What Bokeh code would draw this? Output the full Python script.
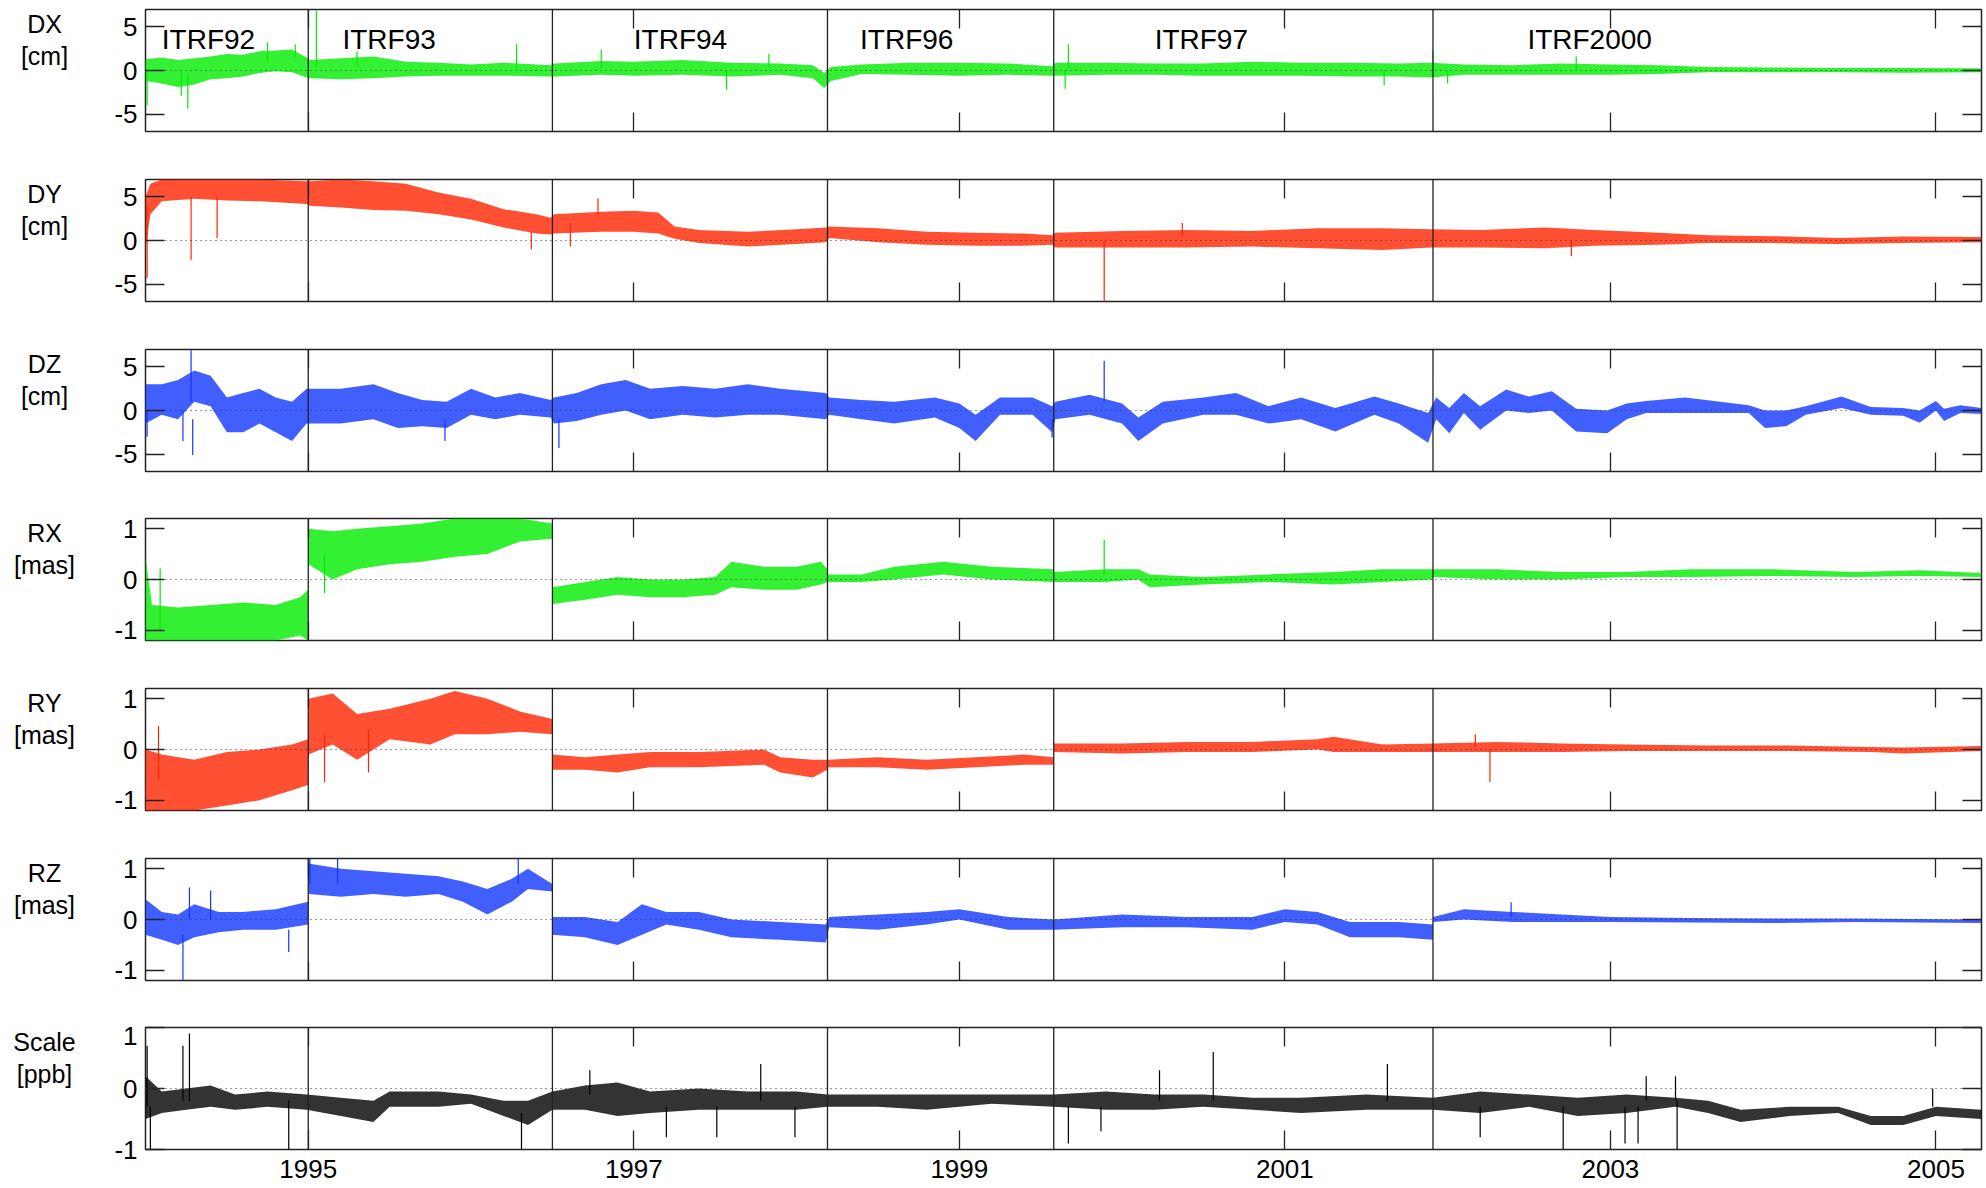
from bokeh.plotting import figure
from bokeh.layouts import column, row
from bokeh.models import Range1d, FixedTicker, LinearAxis, Span
from bokeh.embed import file_html
from bokeh.resources import INLINE
from bokeh.core.properties import value

FONT = "Liberation Sans"

# ---------------- data ----------------
itrf_names = ["ITRF92", "ITRF93", "ITRF94", "ITRF96", "ITRF97", "ITRF2000"]
itrf_label_year = [1994.10, 1995.21, 1997.00, 1998.39, 2000.20, 2002.49]
itrf_bounds = [1995.0, 1996.5, 1998.19, 1999.58, 2001.91]
x_ticks = [1995, 1997, 1999, 2001, 2003, 2005]
cm_ticks = [-5, 0, 5]
mas_ticks = [-1, 0, 1]
ppb_ticks = [-1, 0, 1]

# DX [cm] : envelope of the daily series (low / high) and isolated spikes
dx_t = [1994.00, 1994.10, 1994.20, 1994.30, 1994.40, 1994.50, 1994.60, 1994.70, 1994.80, 1994.90, 1994.99,
        1995.01, 1995.20, 1995.40, 1995.60, 1995.80, 1996.00, 1996.20, 1996.49, 1996.51, 1996.80,
        1997.00, 1997.30, 1997.60, 1997.90, 1998.10, 1998.17, 1998.21, 1998.40, 1998.70, 1999.00,
        1999.30, 1999.57, 1999.59, 1999.90, 2000.20, 2000.50, 2000.80, 2001.10, 2001.40, 2001.70,
        2001.90, 2002.10, 2002.40, 2002.70, 2003.00, 2003.30, 2003.60, 2004.00, 2004.40, 2004.80, 2005.28]
dx_lo = [-1.2, -1.5, -1.9, -1.6, -1.0, -0.9, -0.7, -0.3, -0.1, -0.2, -0.8,
         -0.9, -1.0, -0.9, -0.7, -0.6, -0.6, -0.6, -0.7, -0.7, -0.5,
         -0.6, -0.5, -0.7, -0.5, -0.9, -2.0, -1.2, -0.4, -0.5, -0.6,
         -0.5, -0.6, -0.6, -0.5, -0.5, -0.6, -0.6, -0.6, -0.7, -0.7,
         -0.8, -0.5, -0.5, -0.5, -0.5, -0.4, -0.2, -0.2, -0.2, -0.25, -0.2]
dx_hi = [1.3, 1.5, 1.2, 1.4, 1.6, 1.9, 1.8, 2.2, 2.3, 2.4, 1.5,
         1.2, 1.4, 1.6, 1.0, 0.9, 0.7, 0.9, 0.6, 0.8, 1.1,
         1.0, 1.2, 0.9, 0.8, 0.6, -0.3, 0.4, 0.7, 0.9, 0.9,
         0.8, 0.5, 0.9, 0.9, 0.8, 0.8, 1.0, 0.9, 0.9, 0.8,
         0.9, 0.7, 0.6, 0.8, 0.7, 0.6, 0.4, 0.35, 0.3, 0.3, 0.25]
dx_sp_t = [1994.01, 1994.22, 1994.26, 1994.75, 1994.92, 1995.05, 1995.30, 1996.28, 1996.80,
           1997.57, 1997.83, 1999.65, 1999.67, 2001.61, 2001.91, 2002.00, 2002.79]
dx_sp_from = [0.0, 0.0, -0.5, 1.0, 1.5, 0.5, 0.5, 0.3, 0.3, 0.0, 0.3, 0.0, 0.3, 0.0, 0.0, 0.0, 0.0]
dx_sp_to = [-4.0, -2.9, -4.4, 3.2, 3.0, 6.9, 2.2, 3.0, 2.4, -2.2, 1.9, -2.1, 3.0, -1.7, 2.3, -1.5, 1.6]

# DY [cm]
dy_t = [1994.00, 1994.03, 1994.10, 1994.30, 1994.50, 1994.70, 1994.99, 1995.01, 1995.20, 1995.40,
        1995.60, 1995.80, 1996.00, 1996.20, 1996.40, 1996.49, 1996.51, 1996.80, 1997.00, 1997.15,
        1997.25, 1997.40, 1997.70, 1998.00, 1998.18, 1998.20, 1998.50, 1998.80, 1999.10, 1999.40,
        1999.57, 1999.59, 2000.00, 2000.40, 2000.80, 2001.20, 2001.60, 2001.90, 2002.20, 2002.60,
        2002.90, 2003.30, 2003.60, 2004.00, 2004.40, 2004.80, 2005.28]
dy_lo = [-1.0, 3.0, 4.5, 4.8, 4.6, 4.5, 4.2, 4.0, 3.8, 3.5,
         3.4, 3.0, 2.4, 1.5, 0.8, 0.7, 0.8, 1.0, 1.0, 0.8,
         0.2, -0.3, -0.7, -0.4, -0.2, 0.3, -0.2, -0.5, -0.6, -0.6,
         -0.5, -0.8, -0.8, -0.8, -0.7, -0.9, -1.1, -0.8, -0.8, -0.9,
         -0.6, -0.5, -0.3, -0.3, -0.4, -0.3, -0.2]
dy_hi = [5.0, 6.5, 7.0, 7.0, 7.0, 7.0, 6.8, 6.8, 7.0, 6.8,
         6.5, 5.5, 4.8, 3.6, 3.0, 2.6, 3.0, 3.3, 3.4, 3.2,
         1.6, 1.2, 1.0, 1.3, 1.5, 1.6, 1.4, 1.0, 0.9, 0.8,
         0.6, 0.9, 1.1, 1.2, 1.1, 1.4, 1.4, 1.3, 1.2, 1.5,
         1.2, 0.9, 0.6, 0.5, 0.3, 0.45, 0.4]
dy_sp_t = [1994.01, 1994.28, 1994.44, 1996.37, 1996.61, 1996.78, 1999.89, 2000.37, 2002.76]
dy_sp_from = [4.0, 5.0, 5.0, 1.0, 2.0, 3.0, 0.0, 0.5, 0.0]
dy_sp_to = [-4.3, -2.2, 0.3, -1.0, -0.7, 4.85, -7.0, 2.0, -1.8]

# DZ [cm]
dz_t = [1994.00, 1994.10, 1994.20, 1994.30, 1994.40, 1994.50, 1994.60, 1994.70, 1994.80, 1994.90, 1994.99,
        1995.01, 1995.20, 1995.40, 1995.55, 1995.70, 1995.85,
        1996.00, 1996.15, 1996.30, 1996.49, 1996.51, 1996.65, 1996.80, 1996.95,
        1997.10, 1997.30, 1997.50, 1997.70, 1997.90,
        1998.18, 1998.20, 1998.40, 1998.60, 1998.85,
        1999.00, 1999.10, 1999.25, 1999.45, 1999.57, 1999.59, 1999.80,
        2000.00, 2000.10, 2000.25, 2000.50, 2000.70, 2000.90,
        2001.10, 2001.31, 2001.55, 2001.70, 2001.88, 2001.93,
        2002.01, 2002.10, 2002.20, 2002.36, 2002.50, 2002.64, 2002.79, 2002.98,
        2003.10, 2003.22, 2003.46, 2003.85, 2003.95,
        2004.08, 2004.20, 2004.42, 2004.60, 2004.80, 2004.90,
        2005.00, 2005.05, 2005.15, 2005.28]
dz_lo = [-1.5, -0.5, -1.0, 1.0, 0.5, -2.5, -2.5, -1.5, -2.5, -3.5, -1.5,
         -1.5, -1.5, -1.0, -2.0, -1.8, -2.0,
         -0.5, -1.0, -0.5, -0.8, -1.5, -1.2, -0.5, 0.0,
         -1.0, -0.5, -0.8, -0.5, -0.5,
         -1.0, -0.5, -1.0, -1.5, -0.8,
         -2.0, -3.5, -0.5, -0.5, -2.5, -1.0, -0.5,
         -1.5, -3.5, -1.5, -0.5, -0.5, -1.5,
         -1.0, -2.4, -0.5, -1.5, -3.7, -1.0,
         -2.6, -0.3, -2.2, 0.0, -0.3, 0.0, -2.4, -2.6,
         -1.0, -0.3, -0.3, -0.3, -2.0,
         -1.8, -0.5, 0.3, -0.5, -0.6, -1.4,
         0.0, -1.2, -0.3, -0.4]
dz_hi = [3.0, 3.0, 3.5, 4.6, 4.0, 1.5, 2.0, 2.5, 1.5, 1.0, 2.5,
         2.5, 2.5, 3.0, 2.0, 1.2, 1.0,
         2.5, 1.5, 2.0, 1.2, 1.5, 2.0, 3.0, 3.5,
         2.5, 2.8, 2.5, 3.0, 2.5,
         2.0, 1.5, 1.2, 1.0, 1.5,
         0.8, -0.5, 1.5, 1.5, 0.5, 1.0, 1.8,
         0.8, -0.8, 1.0, 1.5, 2.0, 0.5,
         1.5, 0.3, 1.6, 0.8, -0.3, 1.5,
         0.3, 2.0, 0.5, 2.4, 1.6, 2.2, 0.2, 0.0,
         0.8, 1.1, 1.5, 0.6, 0.0,
         0.0, 0.5, 1.6, 0.4, 0.3, 0.0,
         1.1, 0.2, 0.6, 0.3]
dz_sp_t = [1994.01, 1994.23, 1994.28, 1994.29, 1995.84, 1996.54, 1999.57, 1999.89]
dz_sp_from = [0.0, 0.0, 1.0, -1.0, -1.0, -1.0, -1.0, 1.0]
dz_sp_to = [-3.0, -3.5, 6.9, -5.1, -3.5, -4.3, -3.1, 5.7]

# RX [mas]
rx_t = [1994.00, 1994.04, 1994.20, 1994.40, 1994.60, 1994.80, 1994.95, 1994.999,
        1995.001, 1995.15, 1995.30, 1995.50, 1995.70, 1995.90,
        1996.10, 1996.30, 1996.499, 1996.501, 1996.70, 1996.90,
        1997.10, 1997.30, 1997.50, 1997.60, 1997.80,
        1998.00, 1998.15, 1998.189, 1998.191, 1998.40, 1998.60, 1998.90,
        1999.20, 1999.579, 1999.581, 1999.90,
        2000.10, 2000.17, 2000.50, 2000.90,
        2001.30, 2001.60, 2001.909, 2001.911,
        2002.30, 2002.70, 2003.10, 2003.50, 2004.00, 2004.50, 2004.90, 2005.28]
rx_lo = [-1.2, -1.2, -1.2, -1.2, -1.2, -1.2, -1.1, -1.2,
         0.3, 0.0, 0.2, 0.3, 0.35, 0.45,
         0.5, 0.75, 0.8, -0.48, -0.4, -0.3,
         -0.35, -0.35, -0.3, -0.15, -0.2,
         -0.2, -0.1, -0.05, -0.05, -0.05, 0.0, 0.1,
         0.0, -0.05, -0.05, -0.05,
         0.0, -0.15, -0.1, -0.05,
         -0.1, -0.05, 0.0, 0.05,
         0.0, 0.0, 0.05, 0.05, 0.07, 0.05, 0.07, 0.05]
rx_hi = [0.45, -0.5, -0.55, -0.5, -0.45, -0.5, -0.35, -0.2,
         1.0, 0.95, 1.0, 1.05, 1.1, 1.2,
         1.2, 1.2, 1.1, -0.15, -0.05, 0.05,
         0.0, 0.0, 0.05, 0.35, 0.25,
         0.25, 0.35, 0.2, 0.1, 0.1, 0.25, 0.35,
         0.25, 0.2, 0.15, 0.2,
         0.2, 0.1, 0.05, 0.1,
         0.15, 0.2, 0.2, 0.2,
         0.2, 0.15, 0.15, 0.2, 0.2, 0.15, 0.18, 0.13]
rx_sp_t = [1994.09, 1995.10, 1999.89]
rx_sp_from = [-1.0, 0.5, 0.1]
rx_sp_to = [0.22, -0.27, 0.78]

# RY [mas]
ry_t = [1994.00, 1994.10, 1994.30, 1994.50, 1994.70, 1994.90, 1994.999,
        1995.001, 1995.15, 1995.30, 1995.50, 1995.75, 1995.90,
        1996.10, 1996.30, 1996.499, 1996.501, 1996.70, 1996.90,
        1997.10, 1997.40, 1997.80, 1997.90,
        1998.10, 1998.189, 1998.191, 1998.50, 1998.80,
        1999.10, 1999.40, 1999.579, 1999.581,
        2000.00, 2000.40, 2000.80,
        2001.20, 2001.30, 2001.60, 2001.91,
        2002.30, 2002.70, 2003.10, 2003.60, 2004.10, 2004.60, 2004.80, 2005.28]
ry_lo = [-1.2, -1.2, -1.2, -1.1, -1.0, -0.8, -0.7,
         -0.1, 0.1, -0.2, 0.2, 0.1, 0.3,
         0.3, 0.35, 0.3, -0.4, -0.4, -0.45,
         -0.35, -0.35, -0.3, -0.45,
         -0.55, -0.4, -0.35, -0.35, -0.4,
         -0.35, -0.3, -0.3, -0.05,
         -0.08, -0.05, -0.05,
         0.0, -0.05, -0.05, -0.05,
         -0.05, -0.05, -0.03, -0.03, -0.03, -0.05, -0.08, -0.03]
ry_hi = [0.0, -0.1, -0.2, -0.05, 0.0, 0.1, 0.2,
         1.0, 1.1, 0.7, 0.8, 1.0, 1.15,
         1.0, 0.75, 0.6, -0.1, -0.15, -0.1,
         -0.05, -0.05, 0.0, -0.15,
         -0.2, -0.2, -0.2, -0.15, -0.2,
         -0.15, -0.1, -0.15, 0.12,
         0.12, 0.15, 0.15,
         0.2, 0.25, 0.1, 0.12,
         0.15, 0.12, 0.1, 0.08, 0.08, 0.05, 0.04, 0.07]
ry_sp_t = [1994.08, 1995.10, 1995.37, 2002.17, 2002.26]
ry_sp_from = [-0.6, 0.3, 0.4, 0.05, 0.0]
ry_sp_to = [0.46, -0.64, -0.45, 0.3, -0.64]

# RZ [mas]
rz_t = [1994.00, 1994.10, 1994.20, 1994.30, 1994.45, 1994.60, 1994.80, 1994.999,
        1995.001, 1995.20, 1995.40, 1995.60, 1995.80, 1995.95,
        1996.10, 1996.25, 1996.35, 1996.499, 1996.501, 1996.70, 1996.90,
        1997.05, 1997.20, 1997.40, 1997.60, 1997.90,
        1998.18, 1998.20, 1998.50, 1998.80,
        1999.00, 1999.30, 1999.58,
        2000.00, 2000.40, 2000.80,
        2001.00, 2001.20, 2001.40, 2001.70, 2001.909, 2001.911,
        2002.10, 2002.40, 2002.70, 2003.00, 2003.50, 2004.00, 2004.50, 2005.28]
rz_lo = [-0.3, -0.4, -0.5, -0.35, -0.25, -0.2, -0.2, -0.1,
         0.5, 0.45, 0.5, 0.45, 0.5, 0.35,
         0.1, 0.35, 0.6, 0.55, -0.3, -0.35, -0.5,
         -0.3, -0.1, -0.2, -0.35, -0.4,
         -0.45, -0.15, -0.2, -0.1,
         0.0, -0.2, -0.2,
         -0.15, -0.15, -0.2,
         -0.05, -0.1, -0.35, -0.35, -0.4, -0.05,
         0.0, -0.05, -0.05, -0.05, -0.06, -0.07, -0.05, -0.07]
rz_hi = [0.4, 0.15, 0.1, 0.3, 0.15, 0.15, 0.2, 0.35,
         1.1, 1.0, 0.95, 0.9, 0.85, 0.75,
         0.6, 0.8, 1.0, 0.7, 0.05, 0.05, -0.05,
         0.3, 0.15, 0.15, 0.0, -0.05,
         -0.1, 0.05, 0.1, 0.15,
         0.2, 0.05, 0.0,
         0.1, 0.05, 0.05,
         0.2, 0.15, -0.05, -0.05, -0.1, 0.05,
         0.2, 0.15, 0.1, 0.05, 0.03, 0.02, 0.02, 0.0]
rz_sp_t = [1994.23, 1994.27, 1994.40, 1994.88, 1995.01, 1995.18, 1996.29, 2002.39]
rz_sp_from = [-0.3, 0.0, 0.0, -0.2, 0.7, 0.7, 0.7, 0.05]
rz_sp_to = [-1.2, 0.63, 0.57, -0.64, 1.2, 1.2, 1.2, 0.34]

# Scale [ppb]
sc_t = [1994.00, 1994.10, 1994.25, 1994.40, 1994.55, 1994.75, 1994.99,
        1995.20, 1995.40, 1995.50, 1995.80,
        1996.00, 1996.20, 1996.35, 1996.50, 1996.70, 1996.90,
        1997.10, 1997.40, 1997.70,
        1998.00, 1998.19, 1998.50, 1998.80,
        1999.20, 1999.58, 1999.90,
        2000.20, 2000.50, 2000.80,
        2001.10, 2001.50, 2001.91,
        2002.20, 2002.50, 2002.80,
        2003.10, 2003.40, 2003.60, 2003.80,
        2004.10, 2004.40, 2004.60, 2004.80, 2005.00, 2005.28]
sc_lo = [-0.5, -0.4, -0.35, -0.3, -0.35, -0.3, -0.35,
         -0.45, -0.55, -0.3, -0.3,
         -0.25, -0.45, -0.6, -0.35, -0.35, -0.45,
         -0.4, -0.35, -0.35,
         -0.35, -0.3, -0.3, -0.35,
         -0.25, -0.3, -0.35,
         -0.35, -0.3, -0.35,
         -0.4, -0.35, -0.35,
         -0.4, -0.3, -0.45,
         -0.4, -0.3, -0.4, -0.55,
         -0.45, -0.4, -0.6, -0.6, -0.45, -0.5]
sc_hi = [0.2, -0.05, 0.0, 0.05, -0.1, -0.05, -0.1,
         -0.15, -0.2, -0.05, -0.05,
         -0.1, -0.2, -0.2, -0.05, 0.05, 0.1,
         -0.05, 0.0, -0.05,
         -0.05, -0.1, -0.1, -0.1,
         -0.1, -0.1, -0.05,
         -0.1, -0.1, -0.15,
         -0.15, -0.1, -0.15,
         -0.05, -0.1, -0.15,
         -0.1, -0.15, -0.2, -0.35,
         -0.3, -0.3, -0.45, -0.45, -0.3, -0.35]
sc_sp_t = [1994.01, 1994.03, 1994.23, 1994.27, 1994.88, 1996.31, 1996.73, 1997.20, 1997.51, 1997.78,
           1997.99, 1999.67, 1999.87, 2000.23, 2000.56, 2001.63, 2002.20, 2002.71, 2003.09, 2003.17,
           2003.22, 2003.40, 2003.41, 2004.98]
sc_sp_from = [-0.3, -0.3, -0.2, -0.2, -0.2, -0.4, -0.1, -0.3, -0.3, -0.2,
              -0.3, -0.3, -0.3, -0.2, -0.2, -0.2, -0.3, -0.3, -0.3, -0.3,
              -0.2, -0.2, -0.2, -0.3]
sc_sp_to = [0.7, -1.0, 0.7, 0.9, -1.0, -1.0, 0.3, -0.8, -0.8, 0.4,
            -0.8, -0.9, -0.7, 0.3, 0.6, 0.4, -0.8, -1.0, -0.9, -0.9,
            0.2, 0.2, -1.0, 0.0]

# ---------------- styling ----------------
GREEN = "#00ec00"
RED = "#ff2400"
BLUE = "#1236ff"
BLACK = "#000000"
EDGE = "#222222"

panels = [
    ("DX", "[cm]", dx_t, dx_lo, dx_hi, dx_sp_t, dx_sp_from, dx_sp_to, GREEN, (-7, 7), cm_ticks),
    ("DY", "[cm]", dy_t, dy_lo, dy_hi, dy_sp_t, dy_sp_from, dy_sp_to, RED, (-7, 7), cm_ticks),
    ("DZ", "[cm]", dz_t, dz_lo, dz_hi, dz_sp_t, dz_sp_from, dz_sp_to, BLUE, (-7, 7), cm_ticks),
    ("RX", "[mas]", rx_t, rx_lo, rx_hi, rx_sp_t, rx_sp_from, rx_sp_to, GREEN, (-1.2, 1.2), mas_ticks),
    ("RY", "[mas]", ry_t, ry_lo, ry_hi, ry_sp_t, ry_sp_from, ry_sp_to, RED, (-1.2, 1.2), mas_ticks),
    ("RZ", "[mas]", rz_t, rz_lo, rz_hi, rz_sp_t, rz_sp_from, rz_sp_to, BLUE, (-1.2, 1.2), mas_ticks),
    ("Scale", "[ppb]", sc_t, sc_lo, sc_hi, sc_sp_t, sc_sp_from, sc_sp_to, BLACK, (-1, 1), ppb_ticks),
]

# per-panel (top border, bottom border); frame height fixed
borders = [(9, 47), (1, 47), (1, 46), (1, 47), (1, 47), (1, 46), (1, 39)]
FRAME_H = 122
LABEL_W = 88
FIG_W = 1984 - LABEL_W
X0, X1 = 1994.0, 2005.28


def style_axis(ax, ticks, show_labels):
    ax.ticker = FixedTicker(ticks=ticks)
    ax.major_tick_in = 19
    ax.major_tick_out = 0
    ax.minor_tick_in = 0
    ax.minor_tick_out = 0
    ax.axis_line_color = None
    ax.major_tick_line_color = EDGE
    ax.major_tick_line_width = 1.3
    if show_labels:
        ax.major_label_text_font = FONT
        ax.major_label_text_font_size = "26px"
        ax.major_label_text_color = "black"
        ax.major_label_overrides = {t: str(t) for t in ticks}
    else:
        ax.major_label_text_font_size = "1px"
        ax.major_label_text_color = None
        ax.major_label_standoff = 0


rows = []
n = len(panels)
for i, (name, unit, t, lo, hi, st, sf, sto, color, yr, yticks) in enumerate(panels):
    last = i == n - 1
    top_b, bot_b = borders[i]
    h = top_b + FRAME_H + bot_b
    p = figure(width=FIG_W, height=h, x_range=Range1d(X0, X1), y_range=Range1d(*yr),
               output_backend="svg", toolbar_location=None,
               min_border_left=145 - LABEL_W, min_border_right=3, min_border_top=top_b,
               min_border_bottom=bot_b,
               background_fill_color="white", border_fill_color="white")
    p.outline_line_color = EDGE
    p.outline_line_width = 1.5
    p.xgrid.visible = False
    p.ygrid.visible = False

    style_axis(p.xaxis[0], x_ticks, last)
    p.xaxis[0].major_label_standoff = 10
    style_axis(p.yaxis[0], yticks, True)
    p.yaxis[0].major_label_standoff = 8
    top_ax = LinearAxis()
    style_axis(top_ax, x_ticks, False)
    p.add_layout(top_ax, "above")
    right_ax = LinearAxis()
    style_axis(right_ax, yticks, False)
    p.add_layout(right_ax, "right")

    # the series: envelope band + isolated spikes
    p.varea(x=t, y1=lo, y2=hi, fill_color=color, fill_alpha=0.8)
    p.segment(x0=st, y0=sf, x1=st, y1=sto, line_color=color, line_width=1.2)

    # zero line and ITRF boundaries
    p.add_layout(Span(location=0, dimension="width", line_color="#333333",
                      line_dash="1 4", line_width=1))
    for b in itrf_bounds:
        p.add_layout(Span(location=b, dimension="height", line_color=EDGE, line_width=1.3))

    if i == 0:
        p.text(x=itrf_label_year, y=[3.6] * len(itrf_names), text=itrf_names,
               text_font=value(FONT), text_font_size=value("28px"),
               text_align="left", text_baseline="middle", text_color="black")

    # y-label strip: a small plot whose frame is aligned with the panel frame (y downwards, px)
    lab = figure(width=LABEL_W, height=h, x_range=Range1d(0, LABEL_W), y_range=Range1d(FRAME_H, 0),
                 output_backend="svg", toolbar_location=None, x_axis_type=None, y_axis_type=None,
                 min_border_left=0, min_border_right=0, min_border_top=top_b,
                 min_border_bottom=bot_b,
                 background_fill_color="white", border_fill_color="white")
    lab.outline_line_color = None
    lab.xgrid.visible = False
    lab.ygrid.visible = False
    lab.text(x=[LABEL_W / 2, LABEL_W / 2], y=[14, 46], text=[name, unit],
             text_font=value(FONT), text_font_size=value("25px"),
             text_align="center", text_baseline="middle", text_color="black")
    rows.append(row(lab, p, spacing=0))

layout = column(*rows, spacing=0)
open("out.html", "w").write(file_html(layout, INLINE, title="ITRF transformation parameters"))
